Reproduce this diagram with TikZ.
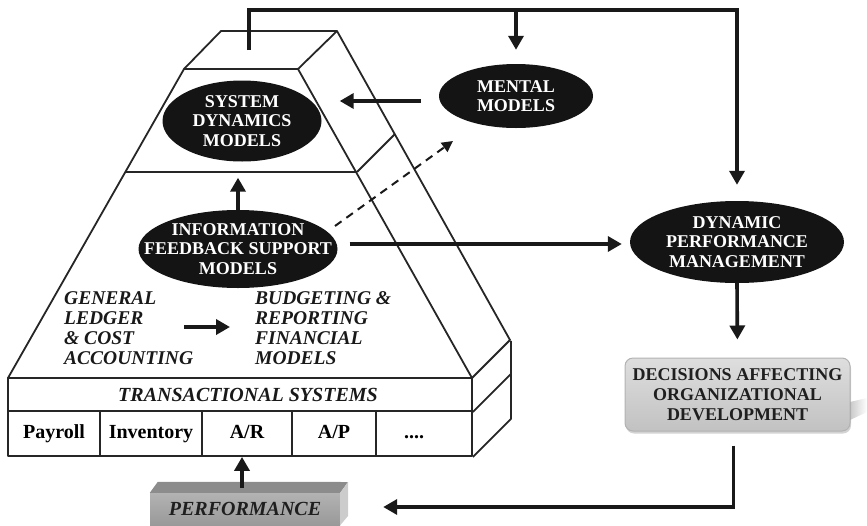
\documentclass[tikz,border=0pt]{standalone}
\usepackage{fontspec}
\setmainfont{Liberation Serif}
\usetikzlibrary{arrows.meta,calc,shapes.geometric,shadows}

\begin{document}
\begin{tikzpicture}[x=1pt,y=-1pt,
  frame/.style={draw=black!85,line width=1.8pt,line join=round},
  cell/.style={frame,rectangle,inner sep=0pt,anchor=center,
    text height=14pt,text depth=4pt,
    font=\fontsize{20}{22}\selectfont\bfseries},
  oval/.style={ellipse,fill=black!92,draw=none,inner sep=0pt},
  ovaltext/.style={text=white,align=center,inner sep=0pt,
    font=\fontsize{18}{19.5}\selectfont\bfseries},
  itext/.style={align=left,inner sep=0pt,text=black!90,
    font=\fontsize{19.5}{20}\selectfont\bfseries\itshape},
  arr/.style={draw=black!90,line width=3.6pt,
    -{Triangle[width=15pt,length=14pt]}},
  dasharr/.style={draw=black!90,line width=2pt,dash pattern=on 8pt off 6pt,
    -{Triangle[width=11pt,length=11pt]}},
]
\useasboundingbox (0,0) rectangle (867,525);

% pyramid: front face, top face and right side
\draw[frame] (184,69) -- (298,69) -- (472,378) -- (8,378) -- cycle;
\draw[frame] (125,172) -- (357,172);
\draw[frame] (184,69) -- (221,31) -- (337,31) -- (298,69);
\draw[frame] (337,31) -- (510,340) -- (472,378);
\draw[frame] (357,172) -- (395,134);

% base of transactional systems
\node[cell,minimum width=464pt,minimum height=33pt] (trans) at (240,394.5) {};
\node[itext,font=\fontsize{20}{22}\selectfont\bfseries\itshape] (transtext) at (248,395) {TRANSACTIONAL SYSTEMS};
\node[cell,minimum width=92pt,minimum height=45pt] (payroll) at (54,433.5) {Payroll};
\node[cell,minimum width=102pt,minimum height=45pt] (inventory) at (151,433.5) {Inventory};
\node[cell,minimum width=90pt,minimum height=45pt] (ar) at (247,433.5) {A/R};
\node[cell,minimum width=84pt,minimum height=45pt] (ap) at (334,433.5) {A/P};
\node[cell,minimum width=96pt,minimum height=45pt] (dots) at (424,433.5) {\hspace*{-20pt}....};
\draw[frame] (dots.south east) -- ++(38,-38) -- ++(0,-78);
\draw[frame] (trans.south east) -- ++(38,-38);

% model ovals
\node[oval,minimum width=159pt,minimum height=81pt] (sd) at (242,121) {};
\node[ovaltext] at (sd) {SYSTEM\\DYNAMICS\\MODELS};
\node[oval,minimum width=154pt,minimum height=64pt] (mental) at (516,96) {};
\node[ovaltext] at (mental) {MENTAL\\MODELS};
\node[oval,minimum width=199pt,minimum height=78pt] (ifs) at (238,249) {};
\node[ovaltext] at (ifs) {INFORMATION\\FEEDBACK SUPPORT\\MODELS};
\node[oval,minimum width=214pt,minimum height=82pt] (dpm) at (737,242) {};
\node[ovaltext] at (dpm) {DYNAMIC\\PERFORMANCE\\MANAGEMENT};

% accounting texts
\node[itext,anchor=west] (gl) at (64,328) {GENERAL\\LEDGER\\\& COST\\ACCOUNTING};
\node[itext,anchor=west] (bud) at (255,328) {BUDGETING \&\\REPORTING\\FINANCIAL\\MODELS};

% decisions box
\node[rectangle,rounded corners=8pt,draw=black!30,line width=1pt,
  top color=black!13,bottom color=black!24,
  drop shadow={shadow xshift=1pt,shadow yshift=-2.5pt,opacity=0.35},
  minimum width=225pt,minimum height=73pt,inner sep=0pt,align=center,
  text=black!88,font=\fontsize{18}{20}\selectfont\bfseries] (dec) at (737.5,394.5)
  {DECISIONS AFFECTING\\ORGANIZATIONAL\\DEVELOPMENT};
\shade[left color=black!35,right color=white,opacity=0.6]
  (850,402) -- (867,398) -- (867,412) -- (850,420) -- cycle;

% performance block
\node[rectangle,inner sep=0pt,minimum width=190pt,minimum height=32pt,
  top color=black!30,bottom color=black!40,
  font=\fontsize{20}{22}\selectfont\bfseries\itshape,text=black!88] (perf) at (245,509) {PERFORMANCE};
\fill[black!45] (perf.north west) -- ++(8,-11) -- (348,482) -- (perf.north east) -- cycle;
\fill[black!20] (perf.north east) -- (348,482) -- (348,516) -- (perf.south east) -- cycle;

% connectors
\coordinate (src) at (249,50);
\coordinate (bend) at (737,10);
\draw[arr,shorten >=16pt] (src) |- (bend) -- (dpm.north);
\draw[arr,shorten >=14pt] (mental.north |- bend) -- (mental.north);
\draw[arr] ($(mental.west)+(-18,5)$) -- ($(sd.east)+(18,-20)$);
\draw[dasharr] ($(ifs.center)+(97,-23)$) -- ($(mental.center)+(-63,45)$);
\draw[arr] ($(ifs.east)+(12,-5)$) -- ($(dpm.west)+(-8,2)$);
\draw[arr,shorten >=16pt] (ifs.north) -- (ifs.north |- sd.south);
\coordinate (glarr) at (184,327);
\draw[arr,shorten >=25pt] (glarr) -- (bud.west |- glarr);
\draw[arr,shorten >=18pt] (dpm.south) -- (dec.north);
\draw[arr,shorten >=43pt] ($(dec.south)+(-4,14)$) |- ($(perf.east)+(0,-2)$);
\draw[arr] ($(perf.north)+(-3,-5)$) -- ($(ar.south)+(-5,0)$);
\end{tikzpicture}
\end{document}
